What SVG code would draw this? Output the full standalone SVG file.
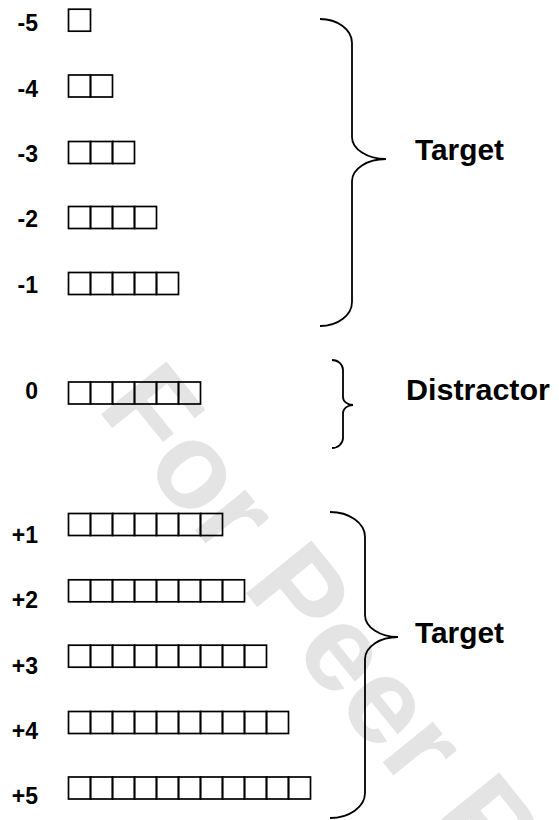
<svg xmlns="http://www.w3.org/2000/svg" width="559" height="820" viewBox="0 0 559 820">
  <style>
    .cell { fill: none; stroke: #000; stroke-width: 1.7; }
    .lbl { font-family: "Liberation Sans", Arial, sans-serif; font-weight: bold; font-size: 23px; fill: #000; text-anchor: end; }
    .big { font-family: "Liberation Sans", Arial, sans-serif; font-weight: bold; font-size: 29px; fill: #000; }
    .brace { fill: none; stroke: #000; stroke-width: 1.8; }
    .wm { font-family: "Liberation Sans", Arial, sans-serif; font-weight: bold; font-size: 122px; fill: #e4e4e4; }
  </style>
  <rect width="559" height="820" fill="#fff"/>

  <g id="watermark">
    <text class="wm" transform="translate(96,408) rotate(51)">For Peer Review</text>
  </g>

  <g id="row-m5">
    <text class="lbl" x="38" y="30.5">-5</text>
    <rect class="cell" x="68.5" y="9.2" width="22" height="22"/>
  </g>
  <g id="row-m4">
    <text class="lbl" x="38" y="96.5">-4</text>
    <rect class="cell" x="68.5" y="75" width="22" height="22"/>
    <rect class="cell" x="90.5" y="75" width="22" height="22"/>
  </g>
  <g id="row-m3">
    <text class="lbl" x="38" y="161.5">-3</text>
    <rect class="cell" x="68.5" y="141.5" width="22" height="22"/>
    <rect class="cell" x="90.5" y="141.5" width="22" height="22"/>
    <rect class="cell" x="112.5" y="141.5" width="22" height="22"/>
  </g>
  <g id="row-m2">
    <text class="lbl" x="38" y="227">-2</text>
    <rect class="cell" x="68.5" y="206.5" width="22" height="22"/>
    <rect class="cell" x="90.5" y="206.5" width="22" height="22"/>
    <rect class="cell" x="112.5" y="206.5" width="22" height="22"/>
    <rect class="cell" x="134.5" y="206.5" width="22" height="22"/>
  </g>
  <g id="row-m1">
    <text class="lbl" x="38" y="292.5">-1</text>
    <rect class="cell" x="68.5" y="272.5" width="22" height="22"/>
    <rect class="cell" x="90.5" y="272.5" width="22" height="22"/>
    <rect class="cell" x="112.5" y="272.5" width="22" height="22"/>
    <rect class="cell" x="134.5" y="272.5" width="22" height="22"/>
    <rect class="cell" x="156.5" y="272.5" width="22" height="22"/>
  </g>
  <g id="row-0">
    <text class="lbl" x="38" y="398.5">0</text>
    <rect class="cell" x="68.5" y="382" width="22" height="22"/>
    <rect class="cell" x="90.5" y="382" width="22" height="22"/>
    <rect class="cell" x="112.5" y="382" width="22" height="22"/>
    <rect class="cell" x="134.5" y="382" width="22" height="22"/>
    <rect class="cell" x="156.5" y="382" width="22" height="22"/>
    <rect class="cell" x="178.5" y="382" width="22" height="22"/>
  </g>
  <g id="row-p1">
    <text class="lbl" x="38" y="543">+1</text>
    <rect class="cell" x="68.5" y="513.5" width="22" height="22"/>
    <rect class="cell" x="90.5" y="513.5" width="22" height="22"/>
    <rect class="cell" x="112.5" y="513.5" width="22" height="22"/>
    <rect class="cell" x="134.5" y="513.5" width="22" height="22"/>
    <rect class="cell" x="156.5" y="513.5" width="22" height="22"/>
    <rect class="cell" x="178.5" y="513.5" width="22" height="22"/>
    <rect class="cell" x="200.5" y="513.5" width="22" height="22"/>
  </g>
  <g id="row-p2">
    <text class="lbl" x="38" y="608">+2</text>
    <rect class="cell" x="68.5" y="579.8" width="22" height="22"/>
    <rect class="cell" x="90.5" y="579.8" width="22" height="22"/>
    <rect class="cell" x="112.5" y="579.8" width="22" height="22"/>
    <rect class="cell" x="134.5" y="579.8" width="22" height="22"/>
    <rect class="cell" x="156.5" y="579.8" width="22" height="22"/>
    <rect class="cell" x="178.5" y="579.8" width="22" height="22"/>
    <rect class="cell" x="200.5" y="579.8" width="22" height="22"/>
    <rect class="cell" x="222.5" y="579.8" width="22" height="22"/>
  </g>
  <g id="row-p3">
    <text class="lbl" x="38" y="673.5">+3</text>
    <rect class="cell" x="68.5" y="645.2" width="22" height="22"/>
    <rect class="cell" x="90.5" y="645.2" width="22" height="22"/>
    <rect class="cell" x="112.5" y="645.2" width="22" height="22"/>
    <rect class="cell" x="134.5" y="645.2" width="22" height="22"/>
    <rect class="cell" x="156.5" y="645.2" width="22" height="22"/>
    <rect class="cell" x="178.5" y="645.2" width="22" height="22"/>
    <rect class="cell" x="200.5" y="645.2" width="22" height="22"/>
    <rect class="cell" x="222.5" y="645.2" width="22" height="22"/>
    <rect class="cell" x="244.5" y="645.2" width="22" height="22"/>
  </g>
  <g id="row-p4">
    <text class="lbl" x="38" y="739">+4</text>
    <rect class="cell" x="68.5" y="711.5" width="22" height="22"/>
    <rect class="cell" x="90.5" y="711.5" width="22" height="22"/>
    <rect class="cell" x="112.5" y="711.5" width="22" height="22"/>
    <rect class="cell" x="134.5" y="711.5" width="22" height="22"/>
    <rect class="cell" x="156.5" y="711.5" width="22" height="22"/>
    <rect class="cell" x="178.5" y="711.5" width="22" height="22"/>
    <rect class="cell" x="200.5" y="711.5" width="22" height="22"/>
    <rect class="cell" x="222.5" y="711.5" width="22" height="22"/>
    <rect class="cell" x="244.5" y="711.5" width="22" height="22"/>
    <rect class="cell" x="266.5" y="711.5" width="22" height="22"/>
  </g>
  <g id="row-p5">
    <text class="lbl" x="38" y="804">+5</text>
    <rect class="cell" x="68.5" y="777" width="22" height="22"/>
    <rect class="cell" x="90.5" y="777" width="22" height="22"/>
    <rect class="cell" x="112.5" y="777" width="22" height="22"/>
    <rect class="cell" x="134.5" y="777" width="22" height="22"/>
    <rect class="cell" x="156.5" y="777" width="22" height="22"/>
    <rect class="cell" x="178.5" y="777" width="22" height="22"/>
    <rect class="cell" x="200.5" y="777" width="22" height="22"/>
    <rect class="cell" x="222.5" y="777" width="22" height="22"/>
    <rect class="cell" x="244.5" y="777" width="22" height="22"/>
    <rect class="cell" x="266.5" y="777" width="22" height="22"/>
    <rect class="cell" x="288.5" y="777" width="22" height="22"/>
  </g>

  <g id="braces">
    <path class="brace" d="M320,19 A32,24 0 0 1 352,43 L352,137 A34,22 0 0 0 386,159 A34,22 0 0 0 352,181 L352,302 A32,24 0 0 1 320,326"/>
    <path class="brace" d="M332,360 A11,10 0 0 1 343,370 L343,397 A10,8 0 0 0 353,405 A10,8 0 0 0 343,413 L343,438 A11,10 0 0 1 332,448"/>
    <path class="brace" d="M330,512 A35,25 0 0 1 365,537 L365,615 A33,22 0 0 0 398,637 A33,22 0 0 0 365,659 L365,793 A35,25 0 0 1 330,818"/>
  </g>

  <g id="label-target-top">
    <text class="big" x="415" y="160" textLength="89" lengthAdjust="spacingAndGlyphs">Target</text>
  </g>
  <g id="label-distractor">
    <text class="big" x="406" y="400" textLength="144" lengthAdjust="spacingAndGlyphs">Distractor</text>
  </g>
  <g id="label-target-bottom">
    <text class="big" x="415" y="643" textLength="89" lengthAdjust="spacingAndGlyphs">Target</text>
  </g>
</svg>
